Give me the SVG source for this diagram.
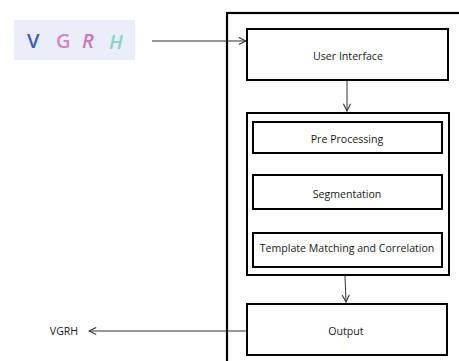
<svg xmlns="http://www.w3.org/2000/svg" width="459" height="361" viewBox="0 0 459 361">
  <style>
    .box { fill: #ffffff; stroke: #000000; stroke-width: 2; }
    .frame { fill: none; stroke: #000000; stroke-width: 2.2; }
    .label { font-family: "Open Sans", "Liberation Sans", sans-serif; font-size: 10.6px; fill: #1a1a1a; text-anchor: middle; dominant-baseline: middle; }
    .wire { fill: none; stroke: #333333; stroke-width: 1; }
    .glyph { font-family: "Open Sans", "Liberation Sans", sans-serif; font-size: 20px; font-weight: 600; }
  </style>
  <defs>
    <marker id="open-arrow" viewBox="0 0 10 10" refX="9" refY="5" markerWidth="9" markerHeight="9" markerUnits="userSpaceOnUse" orient="auto">
      <path d="M1,1 L9,5 L1,9" fill="none" stroke="#333333" stroke-width="1.2"/>
    </marker>
  </defs>

  <!-- input sample image -->
  <g id="input-sample">
    <rect x="14" y="20" width="121" height="40" fill="#e9eef8"/>
    <text class="glyph" x="27" y="48" fill="#3a5ec2">V</text>
    <text class="glyph" x="56" y="48" fill="#d585c3">G</text>
    <text class="glyph" x="82" y="48" fill="#c877bd" font-style="italic">R</text>
    <text class="glyph" x="109" y="49" fill="#86d6c2" font-style="italic">H</text>
  </g>

  <!-- system frame -->
  <g id="system">
    <rect class="frame" x="227" y="13" width="240" height="360"/>
  </g>

  <g id="user-interface">
    <rect class="box" x="247" y="29" width="201" height="51"/>
    <text class="label" x="348" y="57">User Interface</text>
  </g>

  <g id="processing">
    <rect class="box" x="247" y="113" width="202" height="162"/>
  </g>

  <g id="pre-processing">
    <rect class="box" x="253" y="122" width="189" height="31"/>
    <text class="label" x="347" y="140">Pre Processing</text>
  </g>

  <g id="segmentation">
    <rect class="box" x="253" y="175" width="189" height="34"/>
    <text class="label" x="347" y="195">Segmentation</text>
  </g>

  <g id="template-matching">
    <rect class="box" x="253" y="233" width="189" height="34"/>
    <text class="label" x="347" y="249">Template Matching and Correlation</text>
  </g>

  <g id="output">
    <rect class="box" x="247" y="304" width="200" height="51"/>
    <text class="label" x="346" y="332">Output</text>
  </g>

  <g id="result">
    <text class="label" x="64" y="332">VGRH</text>
  </g>

  <!-- connectors -->
  <g id="connectors">
    <line class="wire" x1="152" y1="41" x2="246" y2="41" marker-end="url(#open-arrow)"/>
    <line class="wire" x1="347" y1="81" x2="347" y2="111" marker-end="url(#open-arrow)"/>
    <line class="wire" x1="345" y1="276" x2="346" y2="302" marker-end="url(#open-arrow)"/>
    <line class="wire" x1="246" y1="331" x2="89" y2="331" marker-end="url(#open-arrow)"/>
  </g>
</svg>
